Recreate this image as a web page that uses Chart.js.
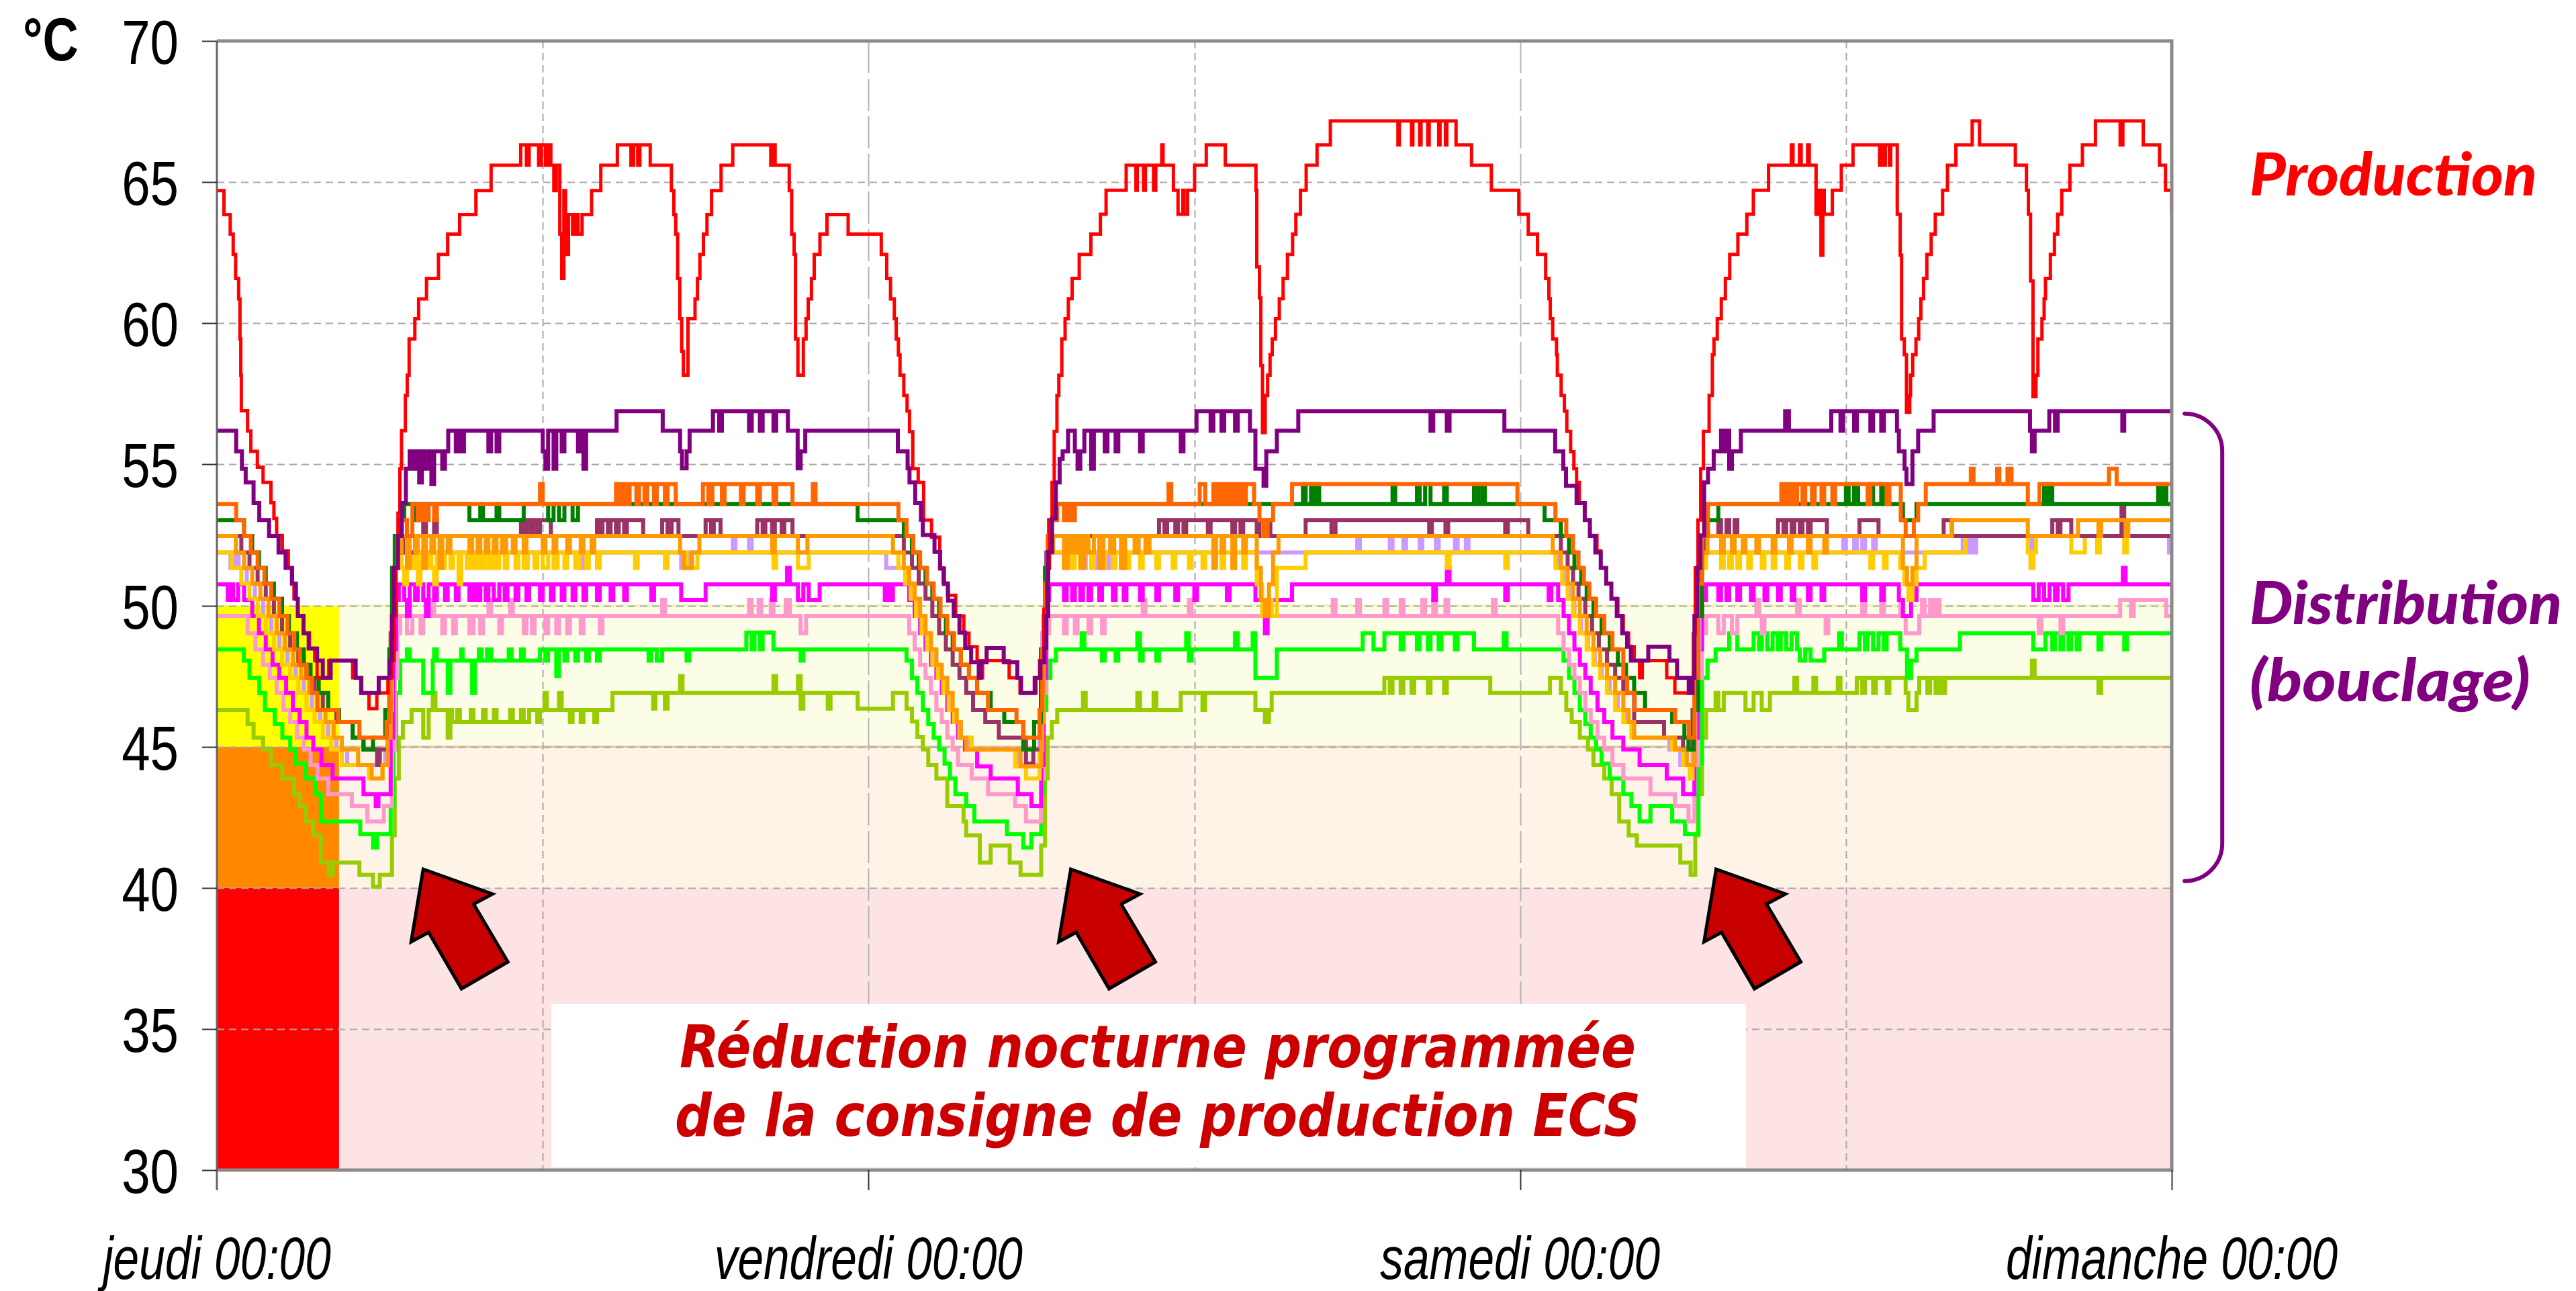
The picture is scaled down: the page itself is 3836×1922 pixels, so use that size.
<!DOCTYPE html>
<html><head><meta charset="utf-8">
<script src="https://cdn.jsdelivr.net/npm/chart.js@4/dist/chart.umd.min.js"></script>
<style>html,body{margin:0;padding:0;background:#fff;overflow:hidden}</style>
</head><body>
<canvas id="c" width="3836" height="1922"></canvas>
<script>
// ---- axis / category data ----
const dayLabels = ['jeudi 00:00','vendredi 00:00','samedi 00:00','dimanche 00:00'];
const dayTicks = [0,24,48,72];
const yTicks = [30,35,40,45,50,55,60,65,70];
const noonLines = [12,36,60];
const dayLines = [24,48];
const unitLabel = '°C';
// comfort bands (hours, °C)
const bandHours = [0,4.5,72];
const bandLevels = [30,40,45,50];
// annotations (text)
const noteLines = ['Réduction nocturne programmée','de la consigne de production ECS'];
const labelProd = 'Production';
const labelDist = ['Distribution','(bouclage)'];
const arrowTips = [[7.6,40.66],[31.45,40.66],[55.22,40.66]];

// ---- series: flat [hour, °C, hour, °C, ...] (value holds until next point) ----
const production = [0,64.7,0.26,63.85,0.49,63.16,0.6,62.44,0.69,61.59,0.8,60.86,0.85,59.44,0.88,58.16,0.9,56.9,1.13,56.18,1.25,55.46,1.49,54.9,1.7,54.36,1.99,53.64,2.1,53.09,2.2,52.48,2.41,51.94,2.63,51.33,2.75,50.78,2.84,50.24,2.98,49.63,3.19,49.02,3.41,48.48,3.6,48.05,3.69,47.44,4.12,48.05,5.0,47.44,5.3,46.9,5.6,46.35,5.89,46.9,6.3,47.44,6.45,48.05,6.53,49.63,6.6,51.33,6.67,53.27,6.74,54.85,6.8,56.19,6.94,57.44,7.01,58.16,7.08,59.44,7.29,60.16,7.43,60.86,7.72,61.59,8.16,62.44,8.5,63.16,8.94,63.85,9.54,64.7,10.1,65.6,11.19,66.32,11.4,65.6,11.5,66.32,11.85,65.6,11.95,66.32,12.1,65.6,12.2,66.32,12.3,65.6,12.41,64.7,12.5,65.6,12.63,63.16,12.7,61.59,12.78,64.7,12.84,62.44,12.95,63.85,13.1,63.16,13.2,63.85,13.3,63.16,13.45,63.85,13.8,64.7,14.14,65.6,14.75,66.32,15.25,65.6,15.35,66.32,15.5,65.6,15.58,66.32,15.96,65.6,16.74,64.7,16.83,63.85,16.9,63.16,16.97,61.59,17.05,60.16,17.12,59.0,17.18,58.16,17.35,60.16,17.61,60.86,17.7,61.59,17.79,62.44,17.92,63.16,18.05,63.85,18.22,64.7,18.57,65.6,19.0,66.32,20.4,65.6,20.5,66.32,20.56,65.6,21.08,64.7,21.17,63.16,21.26,62.44,21.31,59.44,21.4,58.16,21.6,59.44,21.7,60.16,21.78,60.86,21.9,61.59,22.0,62.44,22.21,63.16,22.47,63.85,23.25,63.16,24.47,62.44,24.67,61.59,24.81,60.86,24.95,60.16,25.02,59.44,25.1,58.88,25.16,58.16,25.3,57.44,25.42,56.89,25.51,56.16,25.63,54.85,25.83,54.36,26.03,53.03,26.32,52.42,26.62,51.33,26.75,50.8,26.91,50.36,27.21,49.63,27.51,49.02,27.7,48.54,28.0,48.05,28.1,47.44,28.2,48.05,29.18,47.44,29.58,46.9,30.17,47.44,30.3,48.05,30.46,49.87,30.56,51.33,30.66,53.03,30.76,54.36,30.84,56.17,30.94,57.44,31.01,58.16,31.12,59.44,31.24,60.16,31.36,60.87,31.5,61.59,31.76,62.44,32.19,63.16,32.54,63.86,32.75,64.71,33.49,65.6,33.85,64.71,33.9,65.6,34.13,64.71,34.2,65.6,34.5,64.71,34.58,65.6,34.8,66.32,34.85,65.6,35.23,64.71,35.4,63.86,35.58,64.71,35.62,63.86,35.75,64.71,36.01,65.6,36.44,66.32,37.14,65.6,38.27,64.71,38.3,62.0,38.4,60.9,38.45,58.5,38.51,56.13,38.61,57.44,38.7,58.16,38.79,58.89,38.87,59.44,38.99,60.16,39.13,60.87,39.27,61.59,39.43,62.44,39.62,63.16,39.74,63.86,39.91,64.71,40.12,65.6,40.52,66.32,41.01,67.17,43.5,66.32,43.55,67.17,44.0,66.32,44.05,67.17,44.3,66.32,44.35,67.17,44.6,66.32,44.65,67.17,45.0,66.32,45.05,67.17,45.25,66.32,45.3,67.17,45.64,66.32,46.21,65.6,46.94,64.71,47.95,63.86,48.3,63.16,48.64,62.44,48.94,61.59,49.06,60.87,49.11,60.16,49.2,59.44,49.34,58.89,49.37,58.16,49.51,57.44,49.63,56.89,49.72,56.17,49.86,55.45,49.98,54.85,50.08,54.36,50.18,53.63,50.38,53.03,50.57,52.48,50.83,51.94,50.97,51.33,51.17,50.78,51.36,50.24,51.6,49.63,51.8,49.02,52.0,48.54,52.2,48.05,52.4,47.44,52.5,48.05,53.4,47.44,53.7,46.9,54.3,47.44,54.38,49.0,54.45,51.33,54.55,53.03,54.65,54.85,54.75,56.17,54.96,57.44,55.08,58.89,55.14,59.44,55.26,60.16,55.41,60.87,55.56,61.59,55.72,62.44,56.02,63.16,56.35,63.86,56.59,64.71,57.15,65.6,57.99,66.32,58.05,65.6,58.29,66.32,58.35,65.6,58.59,66.32,58.65,65.6,58.9,63.86,59.0,64.71,59.08,62.41,59.15,64.71,59.2,63.86,59.5,64.71,59.83,65.6,60.26,66.32,61.24,65.6,61.3,66.32,61.4,65.6,61.45,66.32,61.6,65.6,61.65,66.32,61.89,63.86,62.0,62.41,62.05,59.44,62.15,58.89,62.23,56.85,62.35,57.44,62.38,58.16,62.46,58.89,62.58,59.44,62.68,60.16,62.76,60.87,62.86,61.59,62.98,62.44,63.14,63.16,63.29,63.86,63.56,64.71,63.74,65.6,64.05,66.32,64.65,67.17,64.92,66.32,66.24,65.6,66.65,64.71,66.72,63.86,66.8,61.5,66.89,57.4,67.0,58.16,67.07,59.44,67.22,60.16,67.3,60.87,67.35,61.59,67.53,62.44,67.68,63.16,67.8,63.86,67.95,64.71,68.25,65.6,68.71,66.32,69.19,67.17,70.1,66.32,70.2,67.17,70.95,66.32,71.55,65.6,71.77,64.71,72,63.86];

const distPurple = [0,56.19,0.71,55.46,0.92,54.85,1.06,54.36,1.35,53.63,1.56,53.03,1.92,52.46,2.27,51.88,2.53,51.33,2.77,50.78,2.91,50.24,2.98,49.63,3.19,49.02,3.38,48.48,3.69,48.05,3.9,47.44,4.19,48.05,5.11,47.44,5.32,46.9,5.96,47.44,6.36,48.05,6.45,49.63,6.53,51.33,6.67,52.46,6.81,53.63,6.96,54.85,7.1,55.46,7.25,54.85,7.35,55.46,7.45,54.36,7.55,55.46,7.65,54.85,7.8,55.46,7.9,54.3,8.0,55.46,8.3,54.85,8.4,55.46,8.52,56.19,8.8,55.46,8.9,56.19,9.0,55.46,9.1,56.19,10.0,55.46,10.1,56.19,10.3,55.46,10.4,56.19,12.0,55.46,12.1,54.85,12.2,56.19,12.4,54.85,12.5,56.19,12.7,55.46,12.8,56.19,13.3,55.46,13.4,56.19,13.5,54.85,13.6,56.19,14.72,56.88,16.42,56.19,17.06,55.46,17.13,54.86,17.3,55.46,17.41,56.19,18.27,56.88,18.5,56.19,18.6,56.88,19.6,56.19,19.7,56.88,20.0,56.19,20.1,56.88,20.5,56.19,20.6,56.88,21.03,56.19,21.39,54.86,21.5,55.46,21.67,56.19,25.08,55.46,25.44,54.86,25.51,54.36,25.72,53.63,25.93,53.04,26.0,52.5,26.43,51.9,26.64,51.31,26.78,50.77,26.93,50.17,27.14,49.63,27.35,49.04,27.56,48.49,27.78,47.99,28.06,47.44,28.13,47.99,28.35,48.49,28.98,47.99,29.48,47.44,29.62,46.9,30.12,47.44,30.33,47.99,30.48,48.49,30.55,49.63,30.62,51.9,30.76,53.09,30.9,54.36,31.04,55.2,31.15,55.46,31.35,56.19,31.6,55.46,31.7,54.85,31.8,55.46,31.95,56.19,32.2,54.85,32.3,56.19,32.7,55.46,32.8,56.19,33.1,55.46,33.2,56.19,34.0,55.46,34.1,56.19,35.5,55.46,35.6,56.19,36.08,56.88,36.6,56.19,36.7,56.88,37.0,56.19,37.1,56.88,37.5,56.19,37.6,56.88,38.05,56.19,38.25,54.85,38.55,54.24,38.65,55.46,39.04,56.19,39.83,56.88,44.7,56.19,44.8,56.88,45.3,56.19,45.4,56.88,47.42,56.19,49.29,55.46,49.59,54.85,49.69,54.24,50.08,53.63,50.38,53.03,50.57,52.46,50.77,51.88,50.97,51.33,51.17,50.78,51.36,50.24,51.56,49.63,51.76,49.02,51.94,48.54,52.08,48.05,52.72,48.54,53.5,48.05,53.78,47.44,54.21,46.9,54.35,47.44,54.42,49.63,54.52,51.33,54.64,52.48,54.78,54.36,54.92,54.85,55.13,55.46,55.4,56.19,55.5,55.46,55.6,56.19,55.7,54.85,55.8,55.46,56.13,56.19,57.76,56.88,57.9,56.19,59.46,56.88,59.8,56.19,59.9,56.88,60.3,56.19,60.4,56.88,60.9,56.19,61.0,56.88,61.3,56.19,61.4,56.88,61.88,56.19,61.95,55.46,62.16,54.85,62.23,54.3,62.45,55.46,62.66,56.19,63.23,56.88,66.78,56.19,66.85,55.46,66.95,56.19,67.49,56.88,67.7,56.19,67.8,56.88,70.18,56.19,70.25,56.88,72,56.88];

const distOrange = [0,53.6,0.71,53.03,1.0,52.46,1.25,51.88,1.5,51.33,1.75,50.78,2.0,50.24,2.3,49.63,2.6,49.02,2.85,48.45,3.05,47.9,3.3,47.44,3.5,46.9,3.7,46.3,4.47,45.87,5.25,45.32,6.25,45.87,6.35,47.44,6.45,49.63,6.55,51.33,6.65,52.46,6.8,53.03,7.0,52.46,7.2,53.6,7.4,53.03,7.55,53.6,7.7,53.03,7.8,53.6,8.0,53.03,8.1,53.6,11.9,54.3,12.0,53.6,14.7,54.3,14.85,53.6,14.95,54.3,15.1,53.6,15.2,54.3,15.45,53.6,15.55,54.3,15.75,53.6,15.85,54.3,16.1,53.6,16.2,54.3,16.5,53.6,16.6,54.3,16.9,53.6,17.9,54.3,18.1,53.6,18.25,54.3,18.6,53.6,18.7,54.3,19.3,53.6,19.4,54.3,19.9,53.6,20.0,54.3,20.5,53.6,20.6,54.3,21.2,53.6,21.95,54.3,22.05,53.6,25.1,53.03,25.4,52.46,25.65,51.88,25.9,51.33,26.15,50.78,26.4,50.24,26.65,49.63,26.9,49.02,27.15,48.45,27.4,47.9,27.7,47.44,28.0,46.9,28.4,46.3,29.45,45.87,29.7,45.32,30.3,46.3,30.4,48.45,30.5,50.78,30.6,52.46,30.75,53.03,30.95,53.6,31.2,53.03,31.35,53.6,31.5,53.03,31.6,53.6,35.05,54.3,35.15,53.6,36.2,54.3,36.4,53.6,36.7,54.3,36.85,53.6,37.0,54.3,37.15,53.6,37.3,54.3,37.45,53.6,37.6,54.3,37.75,53.6,37.9,54.3,38.2,53.6,38.4,53.03,38.55,52.46,38.7,53.03,38.9,53.6,39.6,54.3,47.9,53.6,49.3,53.03,49.7,52.46,49.95,51.88,50.15,51.33,50.35,50.78,50.55,50.24,50.8,49.63,51.1,49.02,51.4,48.45,51.8,47.44,51.94,46.9,52.22,46.3,53.71,45.87,54.21,45.32,54.42,47.44,54.55,50.78,54.7,52.46,54.92,53.6,57.62,54.3,57.75,53.6,57.9,54.3,58.05,53.6,58.2,54.3,58.4,53.6,58.5,54.3,58.75,53.6,58.85,54.3,59.1,53.6,59.2,54.3,59.5,53.6,59.6,54.3,60.8,53.6,60.9,54.3,61.5,53.6,61.6,54.3,62.02,53.03,62.2,52.46,62.5,53.03,62.66,53.6,62.94,54.3,64.6,54.85,64.7,54.3,65.57,54.85,65.65,54.3,65.95,54.85,66.1,54.3,66.7,53.6,67.13,54.3,69.69,54.85,69.97,54.3,72,54.3];

const distDarkGreen = [0,53.03,1.0,52.46,1.3,51.88,1.55,51.33,1.8,50.78,2.1,50.24,2.4,49.63,2.65,49.02,2.95,48.45,3.2,47.9,3.45,47.44,3.75,46.9,4.1,46.3,4.5,45.87,5.0,45.32,5.4,44.9,5.75,45.32,6.2,46.3,6.35,48.45,6.45,51.33,6.55,52.46,6.7,53.03,6.9,53.6,7.3,53.03,7.5,53.6,9.3,53.03,9.7,53.6,9.8,53.03,10.3,53.6,10.4,53.03,11.3,53.6,12.2,53.03,12.4,53.6,12.6,53.03,12.8,53.6,13.1,53.03,13.3,53.6,23.6,53.03,25.3,52.46,25.6,51.88,25.85,51.33,26.1,50.78,26.35,50.24,26.6,49.63,26.85,49.02,27.1,48.45,27.4,47.9,27.7,47.44,28.0,46.9,28.5,46.3,29.0,45.87,29.7,44.9,30.1,45.87,30.35,48.45,30.5,51.33,30.65,53.03,30.9,53.6,40.0,54.3,40.1,53.6,40.3,54.3,40.4,53.6,40.5,54.3,40.6,53.6,43.3,54.3,43.4,53.6,44.2,54.3,44.3,53.6,44.5,54.3,44.7,53.6,45.2,54.3,45.3,53.6,46.3,54.3,46.45,53.6,46.6,54.3,46.7,53.6,48.9,53.03,49.5,52.46,49.8,51.88,50.0,51.33,50.25,50.78,50.45,50.24,50.7,49.63,51.0,49.02,51.3,48.45,51.6,47.9,51.9,47.44,52.2,46.9,52.6,46.3,53.6,45.87,54.05,45.32,54.2,44.9,54.4,46.3,54.55,49.63,54.7,52.46,54.9,53.03,55.3,53.6,60.0,54.3,60.1,53.6,60.3,54.3,60.45,53.6,60.9,54.3,61.0,53.6,61.3,54.3,61.4,53.6,62.1,53.03,62.6,53.6,67.3,54.3,67.4,53.6,67.5,54.3,67.6,53.6,71.5,54.3,71.6,53.6,71.7,54.3,71.8,53.6,72,53.6];

const distMaroon = [0,52.46,0.9,51.88,1.2,51.33,1.5,50.78,1.8,50.24,2.1,49.63,2.4,49.02,2.7,48.45,3.0,47.9,3.3,47.44,3.6,46.9,3.9,46.3,4.4,45.87,5.0,45.32,5.4,44.9,5.9,44.35,6.0,44.9,6.3,45.87,6.4,49.02,6.5,51.33,6.6,52.46,6.8,51.88,6.9,52.46,7.1,51.88,7.3,52.46,7.6,53.03,7.7,52.46,8.0,53.03,8.1,52.46,11.2,53.03,11.3,52.46,11.4,53.03,11.55,52.46,11.65,53.03,11.8,52.46,11.9,53.03,12.3,52.46,14.0,53.03,14.1,52.46,14.2,53.03,14.4,52.46,14.5,53.03,14.7,52.46,14.8,53.03,15.0,52.46,15.1,53.03,15.7,52.46,16.4,53.03,16.6,52.46,16.75,53.03,17.0,52.46,18.0,53.03,18.2,52.46,18.3,53.03,18.55,52.46,19.9,53.03,20.1,52.46,20.2,53.03,20.45,52.46,20.55,53.03,20.8,52.46,20.9,53.03,21.2,52.46,25.3,51.88,25.6,51.33,25.85,50.78,26.1,50.24,26.35,49.63,26.6,49.02,26.85,48.45,27.1,47.9,27.35,47.44,27.6,46.9,27.85,46.3,28.3,45.87,28.8,45.32,29.8,44.4,30.07,44.9,30.36,46.9,30.45,49.63,30.55,51.88,30.7,52.46,34.7,53.03,34.9,52.46,35.0,53.03,35.3,52.46,35.4,53.03,35.6,52.46,35.7,53.03,36.5,52.46,36.6,53.03,37.4,52.46,37.5,53.03,37.7,52.46,37.8,53.03,38.3,52.46,38.4,53.03,38.8,52.46,40.1,53.03,41.05,52.46,41.2,53.03,44.65,52.46,44.75,53.03,45.25,52.46,45.35,53.03,47.45,52.46,47.55,53.03,48.3,52.46,49.5,51.88,49.75,51.33,49.95,50.78,50.15,50.24,50.4,49.63,50.65,49.02,50.9,48.45,51.2,47.9,51.5,47.44,51.8,46.9,52.2,45.87,53.3,45.32,54.0,44.9,54.35,46.3,54.5,49.63,54.65,51.88,54.85,52.46,55.3,53.03,55.4,52.46,55.6,53.03,55.7,52.46,55.9,53.03,56.0,52.46,57.5,53.03,57.7,52.46,57.8,53.03,58.0,52.46,58.1,53.03,58.3,52.46,58.4,53.03,58.6,52.46,58.7,53.03,59.3,52.46,60.5,53.03,61.2,52.46,63.6,53.03,63.9,52.46,67.6,53.03,67.8,52.46,67.9,53.03,68.3,52.46,70.15,53.6,70.25,52.46,72,52.46];

const distOrange2 = [0,52.46,0.7,51.88,1.0,51.33,1.3,50.78,1.6,50.24,1.9,49.63,2.2,49.02,2.5,48.45,2.8,47.9,3.1,47.44,3.4,46.9,3.7,46.3,4.0,45.87,4.3,45.32,4.6,44.9,5.2,44.35,5.7,43.87,6.1,44.35,6.3,45.32,6.4,48.45,6.5,51.33,6.6,51.88,6.8,52.46,7.0,51.33,7.1,52.46,7.3,51.88,7.4,52.46,7.6,51.33,7.7,52.46,7.9,51.88,8.0,52.46,8.2,51.33,8.3,52.46,8.5,51.88,8.6,52.46,9.3,51.88,9.4,52.46,9.6,51.88,9.7,52.46,9.9,51.88,10.0,52.46,10.2,51.88,10.3,52.46,10.5,51.88,10.65,52.46,10.9,51.88,11.0,52.46,11.3,51.88,11.4,52.46,12.0,51.88,12.1,52.46,12.4,51.88,12.5,52.46,12.9,51.88,13.0,52.46,13.4,51.88,13.5,52.46,13.8,51.88,13.9,52.46,17.06,51.88,17.2,51.33,17.5,51.88,17.77,52.46,20.45,51.88,20.55,52.46,21.4,51.88,21.75,52.46,24.9,51.88,25.3,51.33,25.5,50.78,25.7,50.24,25.9,49.63,26.1,49.02,26.3,48.45,26.5,47.9,26.7,47.44,26.9,46.9,27.1,46.3,27.25,45.87,27.4,45.32,27.6,44.9,29.6,44.3,30.36,45.87,30.45,49.02,30.55,51.33,30.65,51.88,30.8,52.46,31.2,51.33,31.35,52.46,31.5,51.88,31.65,52.46,31.8,51.33,31.95,52.46,32.1,51.88,32.3,52.46,32.5,51.33,32.65,52.46,32.9,51.88,33.05,52.46,33.3,51.33,33.45,52.46,33.8,51.88,33.95,52.46,34.2,51.88,34.35,52.46,36.7,51.33,36.8,52.46,37.0,51.88,37.1,52.46,37.4,51.33,37.5,52.46,37.8,51.88,37.9,52.46,38.3,51.33,38.45,50.2,38.6,49.63,38.75,50.75,38.9,51.88,39.1,52.46,49.2,51.88,49.5,51.33,49.75,50.78,49.95,50.24,50.2,49.63,50.45,49.02,50.7,48.45,50.95,47.9,51.2,47.44,51.5,46.9,51.8,46.3,52.0,45.87,52.2,45.32,53.7,44.9,54.14,44.35,54.42,46.3,54.55,49.63,54.7,51.88,54.9,52.46,55.4,51.88,55.5,52.46,55.8,51.88,55.9,52.46,56.2,51.88,56.3,52.46,56.7,51.88,56.8,52.46,57.3,51.88,57.4,52.46,57.9,51.88,58.0,52.46,58.6,51.88,58.7,52.46,59.2,51.88,59.3,52.46,62.1,51.33,62.25,50.75,62.45,51.33,62.6,52.46,63.9,53.03,66.7,52.46,68.55,53.03,69.3,52.46,69.4,53.03,70.3,52.46,70.4,53.03,72,53.03];

const distGold = [0,51.88,0.55,51.33,0.9,50.78,1.2,50.24,1.5,49.63,1.8,49.02,2.1,48.45,2.4,47.9,2.7,47.44,3.0,46.9,3.3,46.3,3.6,45.87,3.9,45.32,4.2,44.9,4.6,44.35,5.6,43.87,6.1,44.35,6.3,46.3,6.4,49.02,6.5,51.33,6.6,51.88,6.8,51.33,6.9,50.75,7.0,51.88,7.15,51.33,7.25,51.88,7.4,50.75,7.5,51.88,7.65,51.33,7.75,51.88,7.9,51.33,8.0,50.75,8.1,51.88,8.3,51.33,8.4,51.88,8.6,51.33,8.7,51.88,8.9,50.75,9.0,51.88,9.2,51.33,9.35,51.88,9.5,51.33,9.6,51.88,9.75,51.33,9.85,51.88,10.0,51.33,10.15,51.88,10.3,51.33,10.4,51.88,10.6,51.33,10.7,51.88,11.0,51.33,11.1,51.88,11.3,51.33,11.45,51.88,11.7,51.33,11.8,51.88,12.0,51.33,12.2,51.88,12.4,51.33,12.55,51.88,12.8,51.33,12.9,51.88,13.2,51.33,13.35,51.88,13.6,51.33,13.7,51.88,14.0,51.33,14.1,51.88,15.4,51.33,15.5,51.88,16.5,51.33,16.6,51.88,17.3,51.33,17.7,51.88,20.5,51.33,20.6,51.88,21.4,51.33,21.8,51.88,25.1,51.33,25.35,50.78,25.55,50.24,25.75,49.63,25.95,49.02,26.15,48.45,26.35,47.9,26.55,47.44,26.75,46.9,26.95,46.3,27.15,45.87,27.35,45.32,27.8,44.9,29.4,44.3,29.8,43.87,30.3,44.9,30.4,48.45,30.5,51.33,30.6,51.88,31.2,51.33,31.3,51.88,31.5,51.33,31.6,51.88,31.8,51.33,31.9,51.88,32.2,51.33,32.3,51.88,32.6,51.33,32.7,51.88,33.0,51.33,33.1,51.88,33.5,51.33,33.6,51.88,34.0,51.33,34.1,51.88,34.6,51.33,34.7,51.88,35.2,51.33,35.3,51.88,35.8,51.33,35.9,51.88,36.3,51.33,36.4,51.88,37.0,51.33,37.1,51.88,37.4,51.33,37.5,51.88,37.8,51.33,37.9,51.88,38.3,50.75,38.5,49.63,38.7,50.2,38.85,49.63,39.04,51.33,40.1,51.88,45.3,51.33,45.4,51.88,47.45,51.33,47.55,51.88,49.3,51.33,49.55,50.78,49.75,50.24,49.95,49.63,50.2,49.02,50.45,48.45,50.7,47.9,50.95,47.44,51.2,46.9,51.5,46.3,51.8,45.87,52.1,45.32,53.6,44.9,54.0,44.35,54.25,43.87,54.35,44.35,54.42,46.9,54.55,49.63,54.7,51.33,54.85,51.88,55.4,51.33,55.5,51.88,55.7,51.33,55.8,51.88,56.0,51.33,56.1,51.88,56.4,51.33,56.5,51.88,56.9,51.33,57.0,51.88,57.3,51.33,57.4,51.88,57.8,51.33,57.9,51.88,58.3,51.33,58.4,51.88,58.8,51.33,58.9,51.88,60.9,51.33,61.0,51.88,61.4,51.33,61.5,51.88,62.0,51.33,62.15,50.75,62.3,50.2,62.45,50.75,62.6,51.33,62.9,51.88,64.4,52.46,66.7,51.88,66.8,51.33,66.9,51.88,67.0,52.46,68.3,51.88,68.8,52.46,69.25,51.88,69.35,52.46,70.25,51.88,70.35,52.46,72,52.46];

const distLavender = [0,51.88,0.5,51.33,0.65,51.88,0.8,51.33,1.1,50.78,1.4,50.24,1.7,49.63,2.0,49.02,2.3,48.45,2.6,47.9,2.9,47.44,3.2,46.9,3.5,46.3,3.8,45.87,4.1,45.32,4.4,44.9,4.8,44.35,6.2,44.9,6.3,46.3,6.45,49.63,6.55,51.33,6.65,51.88,7.3,51.33,7.4,51.88,8.2,51.33,8.3,51.88,13.4,51.33,13.5,51.88,17.1,51.33,17.4,51.88,19.0,52.46,19.1,51.88,19.6,52.46,19.7,51.88,24.65,51.33,25.4,50.78,25.6,50.24,25.8,49.63,26.0,49.02,26.2,48.45,26.4,47.9,26.6,47.44,26.8,46.9,27.0,46.3,27.2,45.87,27.4,45.32,27.7,44.9,29.5,44.35,30.3,45.87,30.4,49.02,30.5,51.33,30.6,51.88,31.9,51.33,32.0,51.88,32.4,51.33,32.5,51.88,32.8,51.33,32.9,51.88,33.3,51.33,33.4,51.88,42.0,52.46,42.1,51.88,43.2,52.46,43.3,51.88,43.7,52.46,43.8,51.88,44.3,52.46,44.4,51.88,44.9,52.46,45.0,51.88,45.6,52.46,45.7,51.88,46.0,52.46,46.1,51.88,49.4,51.33,49.6,50.78,49.8,50.24,50.0,49.63,50.25,49.02,50.5,48.45,50.75,47.9,51.0,47.44,51.3,46.9,51.6,46.3,51.9,45.87,52.2,45.32,53.5,44.9,53.9,44.35,54.35,45.32,54.45,48.45,54.6,51.33,54.75,51.88,59.9,52.46,60.0,51.88,60.3,52.46,60.4,51.88,60.6,52.46,60.7,51.88,61.0,52.46,61.1,51.88,64.3,52.46,64.5,51.88,64.6,52.46,64.7,51.88,64.8,52.46,66.8,51.33,66.9,52.46,71.9,51.88,72,51.88];

const distMagenta = [0,50.75,0.4,50.2,0.5,50.75,0.6,50.2,0.78,50.75,1.0,50.2,1.3,49.63,1.55,49.02,1.8,48.45,2.05,47.9,2.3,47.44,2.55,46.9,2.8,46.3,3.05,45.87,3.3,45.32,3.55,44.9,3.85,44.35,4.26,43.87,5.4,43.32,5.85,42.9,5.95,43.32,6.4,45.32,6.5,48.45,6.6,50.2,6.7,50.75,6.9,50.2,7.0,49.63,7.1,50.75,7.3,50.2,7.4,50.75,7.6,50.2,7.7,49.63,7.8,50.75,8.0,50.2,8.1,50.75,8.4,50.2,8.5,50.75,8.8,50.2,8.9,50.75,9.3,50.2,9.45,50.75,9.6,50.2,9.7,50.75,9.9,50.2,10.0,50.75,10.2,50.2,10.4,50.75,10.6,50.2,10.7,50.75,11.0,50.2,11.1,50.75,11.4,50.2,11.5,50.75,11.9,50.2,12.0,50.75,12.3,50.2,12.4,50.75,12.7,50.2,12.8,50.75,13.1,50.2,13.2,50.75,13.5,50.2,13.6,50.75,14.0,50.2,14.1,50.75,14.5,50.2,14.6,50.75,15.0,50.2,15.1,50.75,16.0,50.2,16.1,50.75,17.1,50.2,18.0,50.75,20.45,50.2,20.55,50.75,21.0,51.33,21.1,50.75,21.4,50.2,21.6,50.75,21.8,50.2,22.2,50.75,24.6,50.2,24.7,50.75,24.8,50.2,24.9,50.75,25.5,50.2,25.7,49.63,25.9,49.02,26.1,48.45,26.3,47.9,26.5,47.44,26.7,46.9,26.9,46.3,27.1,45.87,27.3,45.32,27.55,44.9,28.0,44.3,28.5,43.87,29.5,43.32,30.0,42.9,30.36,44.35,30.45,47.44,30.55,50.2,30.65,50.75,31.2,50.2,31.3,50.75,31.5,50.2,31.6,50.75,31.8,50.2,31.9,50.75,32.1,50.2,32.2,50.75,32.5,50.2,32.6,50.75,33.0,50.2,33.1,50.75,33.4,50.2,33.5,50.75,34.0,50.2,34.1,50.75,34.6,50.2,34.7,50.75,35.3,50.2,35.4,50.75,36.0,50.2,36.1,50.75,37.2,50.2,37.3,50.75,38.25,50.2,38.6,49.02,38.7,50.2,39.6,50.75,44.8,50.2,44.9,50.75,45.3,51.33,45.4,50.75,47.45,50.2,47.55,50.75,49.05,50.2,49.15,50.75,49.4,50.2,49.6,49.63,49.8,49.02,50.0,48.45,50.2,47.9,50.4,47.44,50.6,46.9,50.85,46.3,51.1,45.87,51.4,45.32,51.8,44.9,52.4,44.35,53.4,43.87,54.0,43.32,54.42,45.32,54.55,48.45,54.7,50.2,54.85,50.75,55.3,50.2,55.4,50.75,55.6,50.2,55.7,50.75,56.0,50.2,56.1,50.75,56.5,50.2,56.6,50.75,57.0,50.2,57.1,50.75,57.5,50.2,57.6,50.75,58.0,50.2,58.1,50.75,58.6,50.2,58.7,50.75,59.1,50.2,59.2,50.75,60.6,50.2,60.7,50.75,61.3,50.2,61.4,50.75,61.95,50.2,62.1,49.63,62.4,50.2,62.6,50.75,66.9,50.2,67.1,50.75,67.3,50.2,67.5,50.75,67.7,50.2,67.8,50.75,68.0,50.2,68.2,50.75,70.2,51.33,70.3,50.75,72,50.75];

const distPink = [0,49.63,1.13,49.02,1.42,48.45,1.7,47.9,1.95,47.44,2.2,46.9,2.45,46.3,2.7,45.87,2.95,45.32,3.2,44.9,3.45,44.35,3.7,43.87,4.1,43.32,4.97,42.9,5.54,42.35,6.15,42.9,6.45,44.9,6.55,47.44,6.65,49.02,6.75,49.63,7.0,49.02,7.2,49.63,7.5,49.02,7.6,49.63,7.9,50.2,8.0,49.63,8.3,49.02,8.4,49.63,8.7,49.02,8.8,49.63,9.3,49.02,9.45,49.63,9.7,49.02,9.8,49.63,10.0,50.2,10.1,49.63,10.4,49.02,10.5,49.63,10.8,50.2,10.9,49.63,11.3,49.02,11.4,49.63,11.6,49.02,11.7,49.63,12.1,49.02,12.2,49.63,12.5,49.02,12.6,49.63,12.9,49.02,13.0,49.63,13.4,49.02,13.5,49.63,14.1,49.02,14.2,49.63,16.4,50.2,16.5,49.63,19.6,50.2,19.7,49.63,19.95,50.2,20.05,49.63,20.4,50.2,20.5,49.63,20.95,50.2,21.1,49.63,21.5,49.02,21.7,49.63,25.5,49.02,25.7,48.45,25.9,47.9,26.1,47.44,26.3,46.9,26.5,46.3,26.7,45.87,26.9,45.32,27.1,44.9,27.3,44.35,27.8,43.87,28.4,43.32,29.4,42.9,29.8,42.35,30.36,43.87,30.45,46.9,30.55,49.02,30.65,49.63,31.2,49.02,31.3,49.63,31.6,49.02,31.7,49.63,32.1,49.02,32.2,49.63,32.6,49.02,32.7,49.63,34.1,50.2,34.2,49.63,35.8,50.2,35.9,49.63,41.1,50.2,41.2,49.63,42.0,50.2,42.1,49.63,43.0,50.2,43.1,49.63,43.6,50.2,43.7,49.63,44.4,50.2,44.5,49.63,44.8,50.2,44.9,49.63,45.25,50.2,45.35,49.63,47.0,50.2,47.1,49.63,49.4,49.02,49.6,48.45,49.8,47.9,50.0,47.44,50.2,46.9,50.4,46.3,50.6,45.87,50.85,45.32,51.1,44.9,51.4,44.35,51.8,43.87,52.8,43.32,53.7,42.9,54.2,42.35,54.42,44.35,54.55,47.44,54.7,49.02,54.85,49.63,55.3,49.02,55.5,49.63,55.8,49.02,56.0,49.63,56.7,50.2,56.8,49.63,56.9,49.02,57.0,49.63,58.2,50.2,58.3,49.63,59.25,49.02,59.35,49.63,60.6,50.2,60.7,49.63,61.3,50.2,61.4,49.63,62.0,50.2,62.1,49.63,62.2,49.02,62.7,49.63,62.8,50.2,62.9,49.63,63.1,50.2,63.2,49.63,63.35,50.2,63.45,49.63,67.1,49.02,67.2,49.63,67.9,49.02,68.0,49.63,70.1,50.2,70.5,49.63,70.6,50.2,71.8,49.63,72,49.63];

const distGreen = [0,48.45,0.99,48.05,1.2,47.44,1.56,46.9,1.77,46.3,2.13,45.8,2.41,45.32,2.7,44.9,2.91,44.4,3.27,43.87,3.62,43.32,3.83,42.35,5.28,41.9,5.75,41.43,5.9,41.9,6.4,42.9,6.5,44.9,6.6,46.9,6.75,48.05,7.0,48.45,7.1,48.05,7.6,46.9,7.95,48.05,8.0,48.45,8.1,48.05,8.5,46.9,8.6,48.05,9.0,48.45,9.05,48.05,9.4,46.9,9.5,48.05,9.65,48.45,9.75,48.05,9.95,48.45,10.1,48.05,10.75,48.45,10.85,48.05,11.2,48.45,11.3,48.05,11.9,48.45,12.1,48.05,12.2,48.45,12.5,47.5,12.6,48.45,12.8,48.05,12.9,48.45,13.2,48.05,13.3,48.45,13.6,48.05,13.7,48.45,14.0,48.05,14.1,48.45,15.9,48.05,16.0,48.45,16.2,48.05,16.4,48.45,17.3,48.05,17.4,48.45,19.5,49.04,19.7,48.45,19.8,49.04,20.0,48.45,20.1,49.04,20.5,48.45,21.5,48.05,21.6,48.45,25.4,48.05,25.6,47.44,25.8,46.9,26.0,46.3,26.2,45.8,26.4,45.32,26.6,44.9,26.8,44.4,27.0,43.87,27.2,43.32,27.6,42.9,27.9,42.35,29.1,41.9,29.7,41.43,30.0,41.9,30.36,43.32,30.45,46.3,30.55,47.44,30.7,48.05,30.9,48.45,31.85,49.02,31.95,48.45,32.6,48.05,32.7,48.45,33.1,48.05,33.2,48.45,33.9,49.02,34.0,48.05,34.1,48.45,34.6,48.05,34.7,48.45,35.7,49.02,35.8,48.05,35.9,48.45,37.5,49.02,37.6,48.45,38.15,49.02,38.25,47.44,39.04,48.45,42.2,49.02,42.6,48.45,43.0,49.02,43.6,48.45,43.7,49.02,44.2,48.45,44.3,49.02,44.6,48.45,44.7,49.02,45.0,48.45,45.1,49.02,45.6,48.45,45.7,49.02,46.3,48.45,47.4,49.02,47.5,48.45,49.6,48.05,49.8,47.44,50.0,46.9,50.2,46.3,50.4,45.8,50.6,45.32,50.8,44.9,51.0,44.4,51.3,43.87,51.8,43.32,52.1,42.9,52.4,42.35,52.8,42.9,53.6,42.35,54.07,41.9,54.57,44.4,54.7,47.44,54.9,48.05,55.2,48.45,55.7,49.02,56.0,48.45,56.6,49.02,56.8,48.45,56.9,49.02,57.1,48.45,57.3,49.02,57.5,48.45,57.6,49.02,57.8,48.45,58.0,49.02,58.2,48.45,58.3,48.05,58.5,48.45,58.7,48.05,59.2,48.45,59.75,49.02,59.85,48.45,60.5,49.02,60.7,48.45,60.8,49.02,61.0,48.45,61.2,49.02,61.4,48.45,61.5,49.02,62.0,48.45,62.25,47.44,62.4,48.05,62.6,48.45,64.2,49.02,66.9,48.45,67.35,49.02,67.6,48.45,67.7,49.02,67.9,48.45,68.0,49.02,68.2,48.45,68.3,49.02,68.5,48.45,68.6,49.02,69.3,48.45,69.4,49.02,70.25,48.45,70.35,49.02,72,49.02];

const distYellowGreen = [0,46.3,1.13,45.8,1.35,45.32,1.7,44.9,1.99,44.35,2.41,43.87,2.84,43.32,3.05,42.9,3.27,42.35,3.55,41.86,3.83,40.89,4.12,40.46,4.27,40.89,5.25,40.46,5.75,40.04,6.0,40.46,6.45,41.86,6.55,43.87,6.7,45.32,6.85,45.87,7.17,46.3,7.6,45.32,7.8,46.3,7.95,46.9,8.05,46.3,8.5,45.32,8.6,46.3,8.66,45.87,8.85,46.3,8.95,45.87,9.35,46.3,9.45,45.87,9.8,46.3,9.9,45.87,10.2,46.3,10.3,45.87,10.8,46.3,10.9,45.87,11.2,46.3,11.3,45.87,11.5,46.3,11.8,45.87,11.9,46.3,12.07,46.9,12.15,46.3,12.6,46.9,12.7,46.3,13.0,45.87,13.1,46.3,13.4,45.87,13.5,46.3,13.9,45.87,14.0,46.3,14.57,46.9,16.07,46.35,16.15,46.9,16.5,46.35,16.6,46.9,17.06,47.5,17.15,46.9,20.5,47.5,20.6,46.9,21.4,47.5,21.5,46.35,21.6,46.9,22.5,46.35,22.6,46.9,23.6,46.35,24.9,46.9,25.4,46.35,25.6,45.89,25.8,45.35,26.0,44.9,26.2,44.35,26.5,43.87,26.9,42.9,27.5,42.35,27.6,41.86,28.1,40.89,28.5,41.5,29.2,40.89,29.6,40.46,30.36,41.5,30.5,43.87,30.6,45.32,30.75,45.87,30.95,46.3,31.9,46.9,32.0,46.3,33.9,46.9,34.0,46.3,34.5,46.9,34.6,46.3,35.5,46.9,36.3,46.3,36.4,46.9,38.25,46.3,38.6,45.87,38.75,46.3,38.85,46.9,43.0,47.44,43.2,46.9,43.3,47.44,43.6,46.9,43.7,47.44,44.0,46.9,44.1,47.44,44.6,46.9,44.7,47.44,45.2,46.9,45.3,47.44,46.9,46.9,49.1,47.44,49.5,46.9,49.7,46.3,49.9,45.87,50.2,45.32,50.5,44.9,50.7,44.35,51.1,43.87,51.37,43.32,51.65,42.35,52.0,41.86,52.3,41.5,53.9,40.89,54.28,40.46,54.45,41.86,54.55,43.32,54.7,45.32,54.85,46.3,55.2,46.9,55.3,46.3,55.5,46.9,56.3,46.3,56.6,46.9,56.9,46.3,57.2,46.9,58.1,47.44,58.2,46.9,58.8,47.44,58.9,46.9,59.7,47.44,59.8,46.9,60.4,47.44,60.6,46.9,60.7,47.44,61.0,46.9,61.1,47.44,61.5,46.9,61.6,47.44,62.2,46.9,62.3,46.3,62.6,46.9,62.7,47.44,63.0,46.9,63.1,47.44,63.3,46.9,63.4,47.44,63.5,46.9,63.65,47.44,66.85,48.05,66.95,47.44,69.3,46.9,69.4,47.44,72,47.44];

// ---- styles ----
const series = [
  {label:'Distribution 1', color:'#800080', pts:distPurple, w:6},
  {label:'Production', color:'#FF0000', pts:production, w:5},
  {label:'Distribution 2', color:'#FF6600', pts:distOrange, w:6},
  {label:'Distribution 3', color:'#008000', pts:distDarkGreen, w:6},
  {label:'Distribution 5', color:'#FF9900', pts:distOrange2, w:6},
  {label:'Distribution 4', color:'#993366', pts:distMaroon, w:6},
  {label:'Distribution 6', color:'#FFCC00', pts:distGold, w:6},
  {label:'Distribution 7', color:'#CC99FF', pts:distLavender, w:6},
  {label:'Distribution 8', color:'#FF00FF', pts:distMagenta, w:6},
  {label:'Distribution 9', color:'#FF99CC', pts:distPink, w:6},
  {label:'Distribution 10', color:'#00FF00', pts:distGreen, w:6},
  {label:'Distribution 11', color:'#99CC00', pts:distYellowGreen, w:6}
];
function toXY(a){const o=[];for(let i=0;i<a.length;i+=2)o.push({x:a[i],y:a[i+1]});return o;}

const solidBand = ['#FF0000','#FF8800','#FFFF00'];
const paleBand = ['#FDE3E3','#FDF3E6','#FCFDE6'];
const NARROW_Y = 0.82; // horizontal squeeze to mimic Arial Narrow
const NARROW_X = 0.78;

function fitText(ctx, txt, x, y, w, align){
  const m = ctx.measureText(txt).width;
  ctx.save(); ctx.translate(x,y); ctx.scale(w/m,1);
  ctx.textAlign='left';
  ctx.fillText(txt, align==='center' ? -m/2 : 0, 0);
  ctx.restore();
}
function squeezeText(ctx, txt, x, y, sx, align){
  const m = ctx.measureText(txt).width;
  ctx.save(); ctx.translate(x,y); ctx.scale(sx,1);
  ctx.textAlign='left';
  const off = align==='center' ? -m/2 : (align==='right' ? -m : 0);
  ctx.fillText(txt, off, 0);
  ctx.restore();
}

const backPlugin = {
  id:'back',
  beforeDatasetsDraw(chart){
    const {ctx, chartArea:a, scales:{x,y}} = chart;
    ctx.save();
    for(let k=0;k<3;k++){
      const t0=y.getPixelForValue(bandLevels[k+1]), t1=y.getPixelForValue(bandLevels[k]);
      const x0=x.getPixelForValue(bandHours[0]), x1=x.getPixelForValue(bandHours[1]), x2=x.getPixelForValue(bandHours[2]);
      ctx.fillStyle=solidBand[k]; ctx.fillRect(x0,t0,x1-x0,t1-t0);
      ctx.fillStyle=paleBand[k]; ctx.fillRect(x1,t0,x2-x1,t1-t0);
    }
    const xb=x.getPixelForValue(bandHours[1]), xe=x.getPixelForValue(bandHours[2]);
    ctx.lineWidth=3;
    ctx.strokeStyle='#F3F3A6'; ctx.beginPath(); ctx.moveTo(xb,y.getPixelForValue(50)); ctx.lineTo(xe,y.getPixelForValue(50)); ctx.stroke();
    ctx.strokeStyle='#E9BE98'; ctx.beginPath(); ctx.moveTo(xb,y.getPixelForValue(45)); ctx.lineTo(xe,y.getPixelForValue(45)); ctx.stroke();
    ctx.strokeStyle='#A8A8A8'; ctx.lineWidth=2; ctx.setLineDash([11,7]);
    yTicks.slice(1,-1).forEach(v=>{const p=Math.round(y.getPixelForValue(v))+0.5;ctx.beginPath();ctx.moveTo(a.left,p);ctx.lineTo(a.right,p);ctx.stroke();});
    noonLines.forEach(h=>{const p=Math.round(x.getPixelForValue(h))+0.5;ctx.beginPath();ctx.moveTo(p,a.top);ctx.lineTo(p,a.bottom);ctx.stroke();});
    ctx.strokeStyle='#B4B4B4'; ctx.setLineDash([48,8]);
    dayLines.forEach(h=>{const p=Math.round(x.getPixelForValue(h))+0.5;ctx.beginPath();ctx.moveTo(p,a.top);ctx.lineTo(p,a.bottom);ctx.stroke();});
    ctx.restore();
  },
  afterDatasetsDraw(chart){
    const {ctx, chartArea:a, scales:{x,y}} = chart;
    ctx.save();
    // frame
    ctx.strokeStyle='#8A8A8A'; ctx.lineWidth=5;
    ctx.beginPath(); ctx.moveTo(a.left,a.top); ctx.lineTo(a.right,a.top); ctx.lineTo(a.right,a.bottom); ctx.lineTo(a.left,a.bottom); ctx.stroke();
    ctx.strokeStyle='#666'; ctx.lineWidth=3;
    ctx.beginPath(); ctx.moveTo(a.left,a.top); ctx.lineTo(a.left,a.bottom+30); ctx.stroke();
    // tick marks
    ctx.strokeStyle='#333'; ctx.lineWidth=2;
    yTicks.forEach(v=>{const p=Math.round(y.getPixelForValue(v))+0.5;ctx.beginPath();ctx.moveTo(a.left-22,p);ctx.lineTo(a.left,p);ctx.stroke();});
    dayTicks.slice(1).forEach(h=>{const p=Math.round(x.getPixelForValue(h))+0.5;ctx.beginPath();ctx.moveTo(p,a.bottom);ctx.lineTo(p,a.bottom+30);ctx.stroke();});
    // tick labels (narrow sans)
    ctx.fillStyle='#000'; ctx.textBaseline='alphabetic';
    ctx.font='93px "Liberation Sans", Arial, sans-serif';
    yTicks.forEach(v=>squeezeText(ctx, String(v), a.left-57, y.getPixelForValue(v)+34, NARROW_Y, 'right'));
    ctx.font='italic 89px "Liberation Sans", Arial, sans-serif';
    dayTicks.forEach((h,i)=>squeezeText(ctx, dayLabels[i], x.getPixelForValue(h), a.bottom+162, NARROW_X, 'center'));
    ctx.font='bold 90px "Liberation Sans", Arial, sans-serif';
    squeezeText(ctx, unitLabel, a.left-289, a.top+29, NARROW_Y, 'left');
    // white note box
    const bx0=x.getPixelForValue(12.32), bx1=x.getPixelForValue(56.32), by0=y.getPixelForValue(35.88), by1=y.getPixelForValue(30.1);
    ctx.fillStyle='#FFFFFF'; ctx.fillRect(bx0,by0,bx1-bx0,by1-by0);
    ctx.fillStyle='#CC0000'; ctx.font='italic bold 88px "DejaVu Sans Condensed", "DejaVu Sans", sans-serif';
    fitText(ctx, noteLines[0], x.getPixelForValue(34.65), y.getPixelForValue(33.64), 1424, 'center');
    fitText(ctx, noteLines[1], x.getPixelForValue(34.65), y.getPixelForValue(31.22), 1438, 'center');
    // arrows
    const shape=[[0,0],[103,37],[75,52],[126,138],[57,178],[8,94],[-18,108]];
    arrowTips.forEach(([h,t])=>{
      const px=x.getPixelForValue(h), py=y.getPixelForValue(t);
      ctx.beginPath(); shape.forEach(([dx,dy],i)=>{ if(i===0)ctx.moveTo(px+dx,py+dy); else ctx.lineTo(px+dx,py+dy);}); ctx.closePath();
      ctx.fillStyle='#C80000'; ctx.fill(); ctx.lineWidth=5; ctx.lineJoin='miter'; ctx.strokeStyle='#000'; ctx.stroke();
    });
    // bracket
    const k0=x.getPixelForValue(72.52), k1=x.getPixelForValue(73.86), kt=y.getPixelForValue(56.8), kb=y.getPixelForValue(40.24);
    ctx.strokeStyle='#800080'; ctx.lineWidth=6; ctx.lineJoin='round';
    ctx.beginPath(); ctx.moveTo(k0,kt); ctx.arcTo(k1,kt,k1,kt+60,56); ctx.lineTo(k1,kb-60); ctx.arcTo(k1,kb,k0,kb,56); ctx.lineTo(k0,kb); ctx.stroke();
    // side labels
    const lx=x.getPixelForValue(74.87);
    ctx.font='italic 900 88px Lato, "DejaVu Sans", sans-serif';
    ctx.fillStyle='#FF0000'; fitText(ctx, labelProd, lx, y.getPixelForValue(64.53), 428, 'left');
    ctx.fillStyle='#800080'; fitText(ctx, labelDist[0], lx, y.getPixelForValue(49.35), 465, 'left');
    fitText(ctx, labelDist[1], lx, y.getPixelForValue(46.61), 418, 'left');
    ctx.restore();
  }
};

new Chart(document.getElementById('c'), {
  type:'line',
  data:{datasets: series.map(s=>({label:s.label, data:toXY(s.pts), borderColor:s.color, backgroundColor:s.color, borderWidth:s.w, pointRadius:0, stepped:true, fill:false, borderJoinStyle:'miter'}))},
  options:{
    responsive:false, animation:false, devicePixelRatio:1,
    layout:{padding:{left:0, right:602, top:61, bottom:0}},
    plugins:{legend:{display:false}, tooltip:{enabled:false}},
    scales:{
      x:{type:'linear', min:0, max:72,
         grid:{display:false, drawTicks:false}, border:{display:false},
         ticks:{display:false, stepSize:24},
         afterFit:(s)=>{s.height=180; s.paddingLeft=0; s.paddingRight=0;}},
      y:{min:30, max:70,
         grid:{display:false, drawTicks:false}, border:{display:false},
         ticks:{display:false, stepSize:5},
         afterFit:(s)=>{s.width=323; s.paddingTop=0; s.paddingBottom=0;}}
    }
  },
  plugins:[backPlugin]
});
</script>
</body></html>
